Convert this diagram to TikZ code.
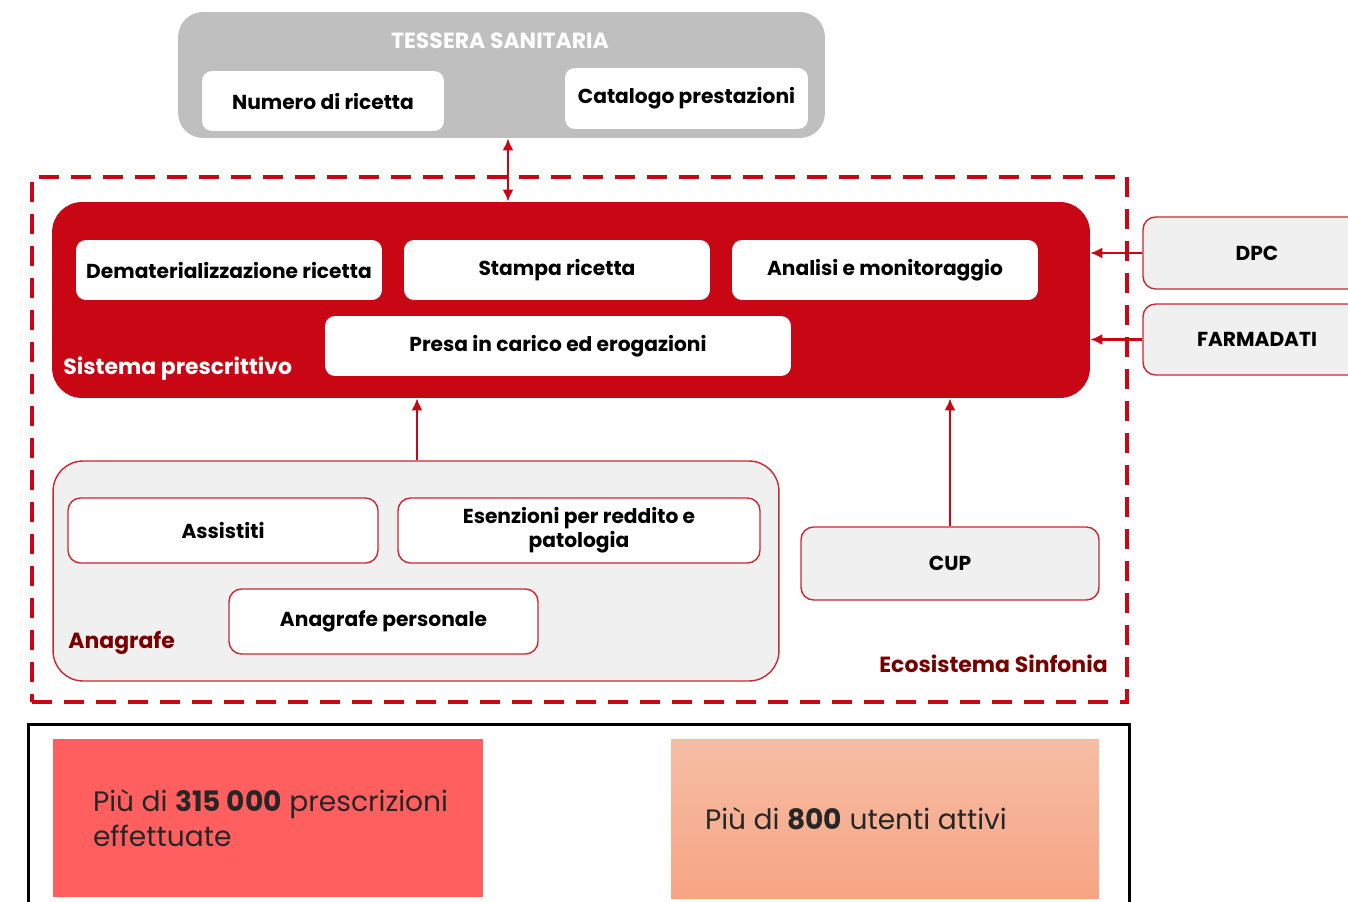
\documentclass[tikz,border=0pt]{standalone}
\usepackage{fontspec}
\setmainfont{Poppins}
\usepackage{xcolor}
\usetikzlibrary{arrows.meta}

\definecolor{sinfred}{RGB}{200,6,20}
\definecolor{bordred}{RGB}{200,40,50}
\definecolor{darkred}{RGB}{122,0,0}
\definecolor{tessgray}{RGB}{191,191,191}
\definecolor{lightgray}{RGB}{240,240,240}
\definecolor{pinkbox}{RGB}{255,95,95}
\definecolor{salmtop}{RGB}{246,189,165}
\definecolor{salmbot}{RGB}{246,165,131}

\tikzset{
  whitebox/.style={draw=none, fill=white, rounded corners=0.2cm, font=\bfseries\fontsize{11.5}{13}\selectfont, align=center, minimum height=1.2cm},
  redbox/.style={draw=bordred, line width=0.8pt, fill=white, rounded corners=0.25cm, font=\bfseries\fontsize{11.5}{13.5}\selectfont, align=center, minimum height=1.3cm},
  graybox/.style={redbox, fill=lightgray},
  arr/.style={-{Latex[length=2.4mm,width=2.2mm]}, sinfred, line width=1.3pt},
  label/.style={inner sep=0pt, font=\bfseries\fontsize{12.5}{14}\selectfont},
  bigtext/.style={inner sep=0pt, font=\fontsize{16}{19.5}\selectfont, text=black!85, align=left}
}

\begin{document}
\begin{tikzpicture}[x=0.02cm, y=-0.02cm]
                \useasboundingbox (0,0) rectangle (1348,902);
                \clip (0,0) rectangle (1348,902);

                % Tessera sanitaria
                \node[fill=tessgray, rounded corners=0.5cm, minimum width=12.94cm, minimum height=2.52cm] (tessera) at (501.5,75) {};
                \node[label, text=white] (tessTitle) at (500,41) {TESSERA SANITARIA};
                \node[whitebox, minimum width=4.84cm] (numero) at (323,101) {Numero di ricetta};
                \node[whitebox, minimum width=4.86cm, minimum height=1.22cm] (catalogo) at (686.5,98.5) {Catalogo prestazioni};

                % Ecosistema
                \node[draw=sinfred, line width=2.3pt, dash pattern=on 0.4cm off 0.24cm, minimum width=21.9cm, minimum height=10.5cm] (eco) at (579.5,439.5) {};
                \node[label, anchor=east, text=darkred] (ecoLabel) at (1108,664) {Ecosistema Sinfonia};

                % Sistema prescrittivo
                \node[fill=sinfred, rounded corners=0.6cm, minimum width=20.76cm, minimum height=3.92cm] (sistema) at (571,300) {};
                \node[whitebox, minimum width=6.12cm] (demat) at (229,270) {Dematerializzazione ricetta};
                \node[whitebox, minimum width=6.12cm] (stampa) at (557,270) {Stampa ricetta};
                \node[whitebox, minimum width=6.12cm] (analisi) at (885,270) {Analisi e monitoraggio};
                \node[whitebox, minimum width=9.32cm] (presa) at (558,346) {Presa in carico ed erogazioni};
                \node[label, anchor=west, text=white] (sisLabel) at (63,369) {Sistema prescrittivo};

                \draw [{Latex[length=2.4mm,width=2.2mm]}-{Latex[length=2.4mm,width=2.2mm]}, sinfred, line width=1.3pt] (tessera.south -| 508,0) -- (sistema.north -| 508,0);

                % Anagrafe
                \node[draw=bordred, line width=0.8pt, fill=lightgray, rounded corners=0.6cm, minimum width=14.52cm, minimum height=4.4cm] (anagrafe) at (416,571) {};
                \node[redbox, minimum width=6.2cm] (assistiti) at (223,530.5) {Assistiti};
                \node[redbox, minimum width=7.24cm] (esenzioni) at (579,530.5) {Esenzioni per reddito e\\patologia};
                \node[redbox, minimum width=6.18cm] (anapers) at (383.5,621.5) {Anagrafe personale};
                \node[label, anchor=west, text=darkred] (anaLabel) at (68,643) {Anagrafe};
                \draw [arr] (anagrafe.north -| 417,0) -- (sistema.south -| 417,0);

                % CUP
                \node[graybox, minimum width=5.96cm, minimum height=1.46cm] (cup) at (950,563.5) {CUP};
                \draw [arr] (cup.north) -- (sistema.south -| cup.north);

                % DPC e Farmadati
                \node[graybox, minimum width=4.56cm, minimum height=1.44cm] (dpc) at (1257,253) {DPC};
                \node[graybox, minimum width=4.56cm, minimum height=1.42cm] (farmadati) at (1257,339.5) {FARMADATI};
                \draw [arr] (dpc.west) -- (sistema.east |- dpc.west);
                \draw [arr] (farmadati.west) -- (sistema.east |- farmadati.west);

                % Numeri
                \node[draw=black, line width=1.7pt, minimum width=22.04cm, minimum height=4cm] (numeri) at (579,824) {};
                \node[fill=pinkbox, minimum width=8.6cm, minimum height=3.16cm] (prescrizioni) at (268,818) {};
                \node[bigtext, anchor=west] (prescText) at (prescrizioni.west) [xshift=0.8cm] {Più di \textbf{315 000} prescrizioni\\effettuate};
                \node[top color=salmtop, bottom color=salmbot, minimum width=8.56cm, minimum height=3.2cm] (utenti) at (885,819) {};
                \node[bigtext, anchor=west] (utentiText) at (utenti.west) [xshift=0.68cm] {Più di \textbf{800} utenti attivi};
            \end{tikzpicture}
\end{document}
